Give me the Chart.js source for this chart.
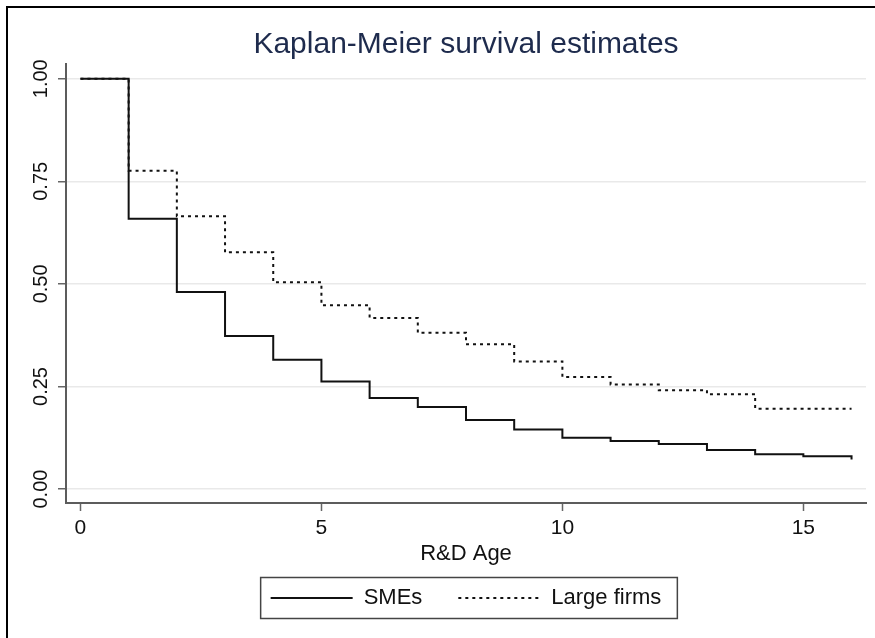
<!DOCTYPE html>
<html>
<head>
<meta charset="utf-8">
<title>Kaplan-Meier survival estimates</title>
<script src="https://cdn.jsdelivr.net/npm/chart.js@4.4.1/dist/chart.umd.min.js"></script>
<style>
  html, body { margin: 0; padding: 0; background: #fff; overflow: hidden; }
  canvas { display: block; }
</style>
</head>
<body>
<canvas id="km" width="875" height="638"></canvas>
<script>
// R&D age (years) and survival estimates
var ages = [0, 1, 2, 3, 4, 5, 6, 7, 8, 9, 10, 11, 12, 13, 14, 15, 16];
var smes = [1.000, 0.659, 0.480, 0.373, 0.315, 0.262, 0.222, 0.200, 0.168, 0.145, 0.125, 0.117, 0.110, 0.095, 0.085, 0.080, 0.072];
var largeFirms = [1.000, 0.776, 0.665, 0.577, 0.504, 0.448, 0.417, 0.381, 0.353, 0.311, 0.273, 0.255, 0.241, 0.231, 0.196, 0.196, 0.196];
var seriesNames = ['SMEs', 'Large firms'];
var xTicks = [0, 5, 10, 15];
var yTicks = [0, 0.25, 0.5, 0.75, 1];

var fontFamily = '"Liberation Sans", Arial, Helvetica, sans-serif';

function points(values) {
    return ages.map(function(a, i) { return {x: a, y: values[i]}; });
}

// white page with the figure frame (top and left edge)
var frame = {
    id: 'frame',
    beforeDraw: function(chart) {
        var ctx = chart.ctx;
        ctx.save();
        ctx.fillStyle = '#fff';
        ctx.fillRect(0, 0, chart.width, chart.height);
        ctx.strokeStyle = '#000';
        ctx.lineWidth = 2;
        ctx.beginPath();
        ctx.moveTo(7, chart.height);
        ctx.lineTo(7, 7);
        ctx.lineTo(chart.width, 7);
        ctx.stroke();
        ctx.restore();
    }
};

// y tick labels are vertical in the original
var verticalTicks = {
    id: 'verticalTicks',
    afterDraw: function(chart) {
        var scale = chart.scales.y;
        var ctx = chart.ctx;
        ctx.save();
        ctx.fillStyle = '#111';
        ctx.font = '20px ' + fontFamily;
        ctx.textAlign = 'center';
        ctx.textBaseline = 'alphabetic';
        scale.ticks.forEach(function(t) {
            var y = scale.getPixelForValue(t.value);
            ctx.save();
            ctx.translate(scale.right - 19, y);
            ctx.rotate(-Math.PI / 2);
            ctx.fillText(t.value.toFixed(2), 0, 0);
            ctx.restore();
        });
        ctx.restore();
    }
};

// box around the legend
var legendBox = {
    id: 'legendBox',
    afterDraw: function(chart) {
        var hb = chart.legend.legendHitBoxes;
        if (!hb || !hb.length) return;
        var first = hb[0], last = hb[hb.length - 1];
        var cy = first.top + first.height / 2;
        var ctx = chart.ctx;
        ctx.save();
        ctx.strokeStyle = '#444';
        ctx.lineWidth = 1.5;
        ctx.strokeRect(first.left - 10, cy - 20.5, last.left + last.width + 16 - (first.left - 10), 41);
        ctx.restore();
    }
};

var kmChart = new Chart(document.getElementById('km'), {
    type: 'line',
    data: {
        datasets: [
            {
                label: seriesNames[0],
                data: points(smes),
                borderColor: '#111',
                borderWidth: 2,
                stepped: 'before',
                pointRadius: 0,
                fill: false
            },
            {
                label: seriesNames[1],
                data: points(largeFirms),
                borderColor: '#111',
                borderWidth: 2,
                borderDash: [3, 4],
                stepped: 'before',
                pointRadius: 0,
                fill: false
            }
        ]
    },
    options: {
        responsive: false,
        animation: false,
        devicePixelRatio: 1,
        layout: { padding: { left: 8, right: 9, top: 10, bottom: 19 } },
        scales: {
            x: {
                type: 'linear',
                min: -0.3,
                max: 16.3,
                afterBuildTicks: function(s) { s.ticks = xTicks.map(function(v) { return {value: v}; }); },
                afterFit: function(s) { s.height = 48; },
                grid: { drawOnChartArea: false, drawTicks: true, tickLength: 8, tickColor: '#666', tickWidth: 1.5 },
                border: { display: true, color: '#5c5c5c', width: 2 },
                ticks: { color: '#111', padding: 5, font: { size: 21, family: fontFamily } },
                title: { display: true, text: 'R&D Age', color: '#111',
                         font: { size: 22, family: fontFamily }, padding: { top: 0, bottom: -16 } }
            },
            y: {
                type: 'linear',
                min: -0.034,
                max: 1.036,
                afterBuildTicks: function(s) { s.ticks = yTicks.map(function(v) { return {value: v}; }); },
                afterFit: function(s) { s.width = 58; },
                grid: { color: '#e9e9e9', lineWidth: 1.5, drawTicks: true, tickLength: 8, tickColor: '#666', tickWidth: 1.5 },
                border: { display: true, color: '#5c5c5c', width: 2 },
                ticks: { display: false }
            }
        },
        plugins: {
            title: {
                display: true,
                text: 'Kaplan-Meier survival estimates',
                color: '#1e2b4d',
                fullSize: false,
                font: { size: 30, family: fontFamily, weight: 'normal' },
                padding: { top: 17, bottom: 1 }
            },
            legend: {
                position: 'bottom',
                fullSize: false,
                labels: {
                    usePointStyle: true,
                    pointStyle: 'line',
                    pointStyleWidth: 82,
                    padding: 36,
                    color: '#111',
                    font: { size: 22, family: fontFamily },
                    generateLabels: function(chart) {
                        var items = Chart.defaults.plugins.legend.labels.generateLabels(chart);
                        items.forEach(function(item) {
                            var ds = chart.data.datasets[item.datasetIndex];
                            item.lineDash = ds.borderDash || [];
                            item.lineWidth = ds.borderWidth;
                            item.strokeStyle = ds.borderColor;
                        });
                        return items;
                    }
                }
            },
            tooltip: { enabled: false }
        }
    },
    plugins: [frame, verticalTicks, legendBox]
});
</script>
</body>
</html>
